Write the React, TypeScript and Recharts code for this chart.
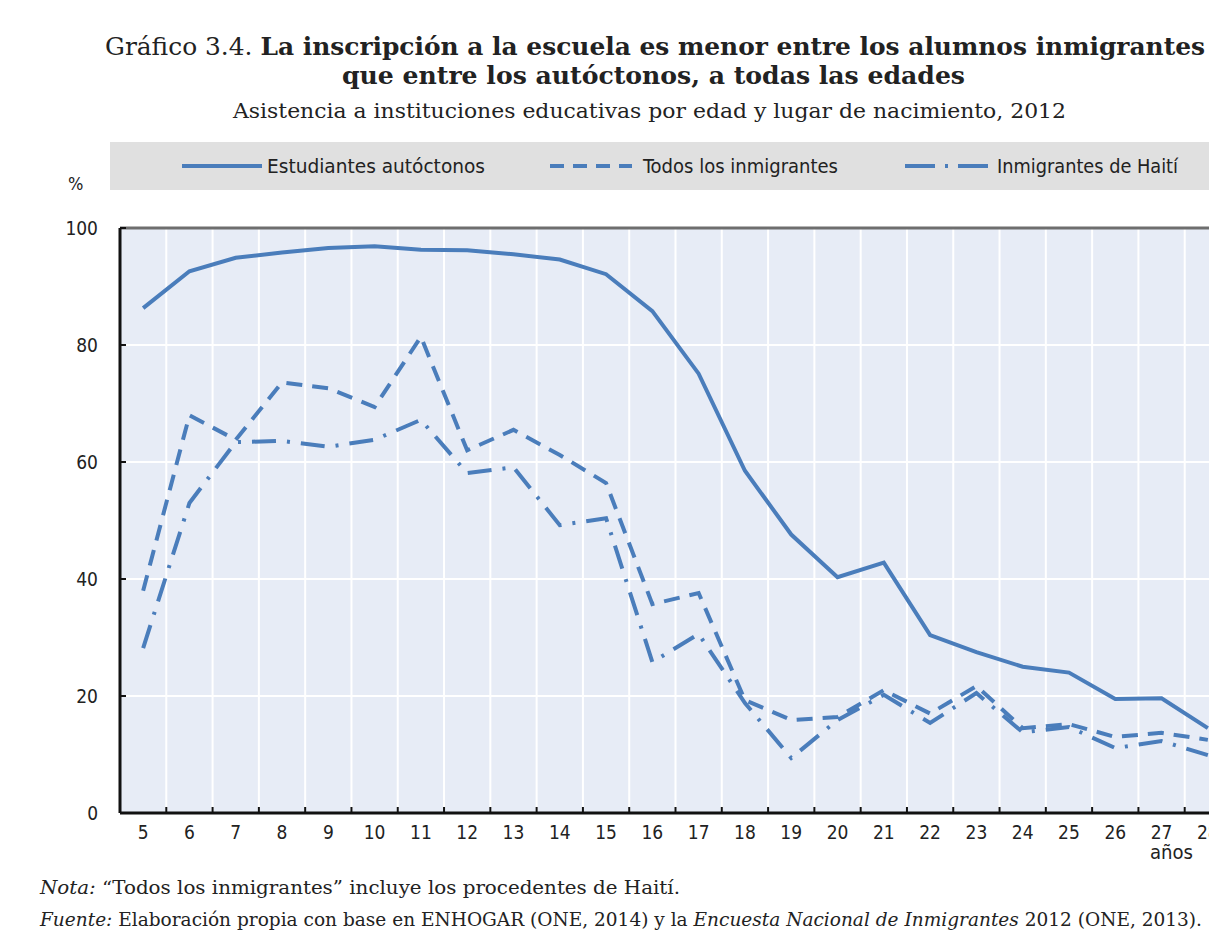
import { CartesianGrid, Line, LineChart, ReferenceLine, XAxis, YAxis } from "recharts";

// edades 5..28 (la última columna queda cortada en el original)
const ages = [5, 6, 7, 8, 9, 10, 11, 12, 13, 14, 15, 16, 17, 18, 19, 20, 21, 22, 23, 24, 25, 26, 27, 28];

const autoctonos = [86.3, 92.6, 94.9, 95.8, 96.6, 96.9, 96.3, 96.2, 95.5, 94.6, 92.1, 85.8, 75.1, 58.5, 47.6, 40.3, 42.8, 30.4, 27.5, 25.0, 24.0, 19.5, 19.6, 14.5];
const todosInmigrantes = [38.0, 68.0, 63.8, 73.6, 72.6, 69.4, 81.4, 62.0, 65.5, 61.2, 56.4, 35.7, 37.6, 19.3, 15.9, 16.4, 21.0, 17.0, 21.7, 14.5, 15.2, 13.0, 13.7, 12.5];
const haiti = [28.2, 53.0, 63.4, 63.6, 62.6, 63.8, 67.2, 58.1, 59.1, 49.2, 50.4, 25.8, 30.6, 18.8, 9.4, 15.9, 20.2, 15.4, 20.5, 13.8, 14.7, 11.1, 12.3, 9.9];

const yTicks = [0, 20, 40, 60, 80, 100];
// límites entre edades: marcas del eje y líneas verticales de la cuadrícula
const boundaries = ages.slice(0, -1).map((a) => a + 0.5);
const xTicks = [...ages, ...boundaries].sort((a, b) => a - b);

const data = ages.map((age, i) => ({
  age,
  autoctonos: autoctonos[i],
  todos: todosInmigrantes[i],
  haiti: haiti[i],
}));

const BLUE = "#4a7dbb";
const NARROW = "'DejaVu Sans Condensed', 'Liberation Sans Narrow', 'Roboto', sans-serif";
const SERIF = "'DejaVu Serif', 'Liberation Serif', serif";

const DASHED = "16 10";
const DASH_DOT = "24 11 3 11";

const AgeTick = ({ x, y, payload }: any) => {
  const v = payload.value;
  if (!Number.isInteger(v)) {
    return <line x1={x} x2={x} y1={y - 6} y2={y} stroke="#111" strokeWidth={2} />;
  }
  return (
    <text x={x} y={y + 26} textAnchor="middle" fontFamily={NARROW} fontSize={19} fill="#222">
      {v}
    </text>
  );
};

export default function App() {
  return (
    <div
      style={{
        position: "absolute",
        left: 0,
        top: 0,
        width: 1209,
        height: 943,
        overflow: "hidden",
        background: "#fff",
      }}
    >
      <div style={{ position: "absolute", left: 0, top: 0 }}>
        <LineChart
          width={1260}
          height={943}
          data={data}
          margin={{ top: 228, right: 29, bottom: 100, left: 60 }}
        >
          <CartesianGrid
            xAxisId="grid"
            fill="#e7ecf6"
            fillOpacity={1}
            stroke="#ffffff"
            strokeWidth={2}
          />
          <XAxis
            xAxisId="grid"
            dataKey="age"
            type="number"
            orientation="top"
            domain={[4.5, 28.5]}
            ticks={boundaries}
            interval={0}
            hide
          />
          <XAxis
            dataKey="age"
            type="number"
            domain={[4.5, 28.5]}
            ticks={xTicks}
            interval={0}
            height={30}
            tickSize={0}
            tickMargin={0}
            tickLine={false}
            axisLine={{ stroke: "#111", strokeWidth: 3 }}
            tick={<AgeTick />}
          />
          <YAxis
            domain={[0, 100]}
            ticks={yTicks}
            interval={0}
            width={60}
            tickSize={-6}
            tickMargin={28}
            axisLine={{ stroke: "#111", strokeWidth: 3 }}
            tickLine={{ stroke: "#111", strokeWidth: 2 }}
            tick={{ fontFamily: NARROW, fontSize: 19, fill: "#222" }}
          />
          <ReferenceLine y={100} stroke="#6e6e6e" strokeWidth={3} />
          <Line
            dataKey="autoctonos"
            type="linear"
            stroke={BLUE}
            strokeWidth={4}
            dot={false}
            isAnimationActive={false}
          />
          <Line
            dataKey="todos"
            type="linear"
            stroke={BLUE}
            strokeWidth={4}
            strokeDasharray={DASHED}
            dot={false}
            isAnimationActive={false}
          />
          <Line
            dataKey="haiti"
            type="linear"
            stroke={BLUE}
            strokeWidth={4}
            strokeDasharray={DASH_DOT}
            dot={false}
            isAnimationActive={false}
          />
        </LineChart>
      </div>

      {/* títulos, leyenda y notas */}
      <svg
        width={1209}
        height={943}
        style={{ position: "absolute", left: 0, top: 0, pointerEvents: "none" }}
      >
        <text x={105} y={55} fontFamily={SERIF} fontSize={25} fill="#222" textLength={1100} lengthAdjust="spacingAndGlyphs">
          <tspan>Gráfico 3.4. </tspan>
          <tspan fontWeight="bold">La inscripción a la escuela es menor entre los alumnos inmigrantes</tspan>
        </text>
        <text x={342} y={84} fontFamily={SERIF} fontSize={25} fontWeight="bold" fill="#222" textLength={623} lengthAdjust="spacingAndGlyphs">
          que entre los autóctonos, a todas las edades
        </text>
        <text x={233} y={118} fontFamily={SERIF} fontSize={20} fill="#222" textLength={833} lengthAdjust="spacingAndGlyphs">
          Asistencia a instituciones educativas por edad y lugar de nacimiento, 2012
        </text>

        <rect x={110} y={142} width={1110} height={48} fill="#e0e0e0" />
        <line x1={182} x2={262} y1={166} y2={166} stroke={BLUE} strokeWidth={4} />
        <text x={267} y={173} fontFamily={NARROW} fontSize={20} fill="#222" textLength={218} lengthAdjust="spacingAndGlyphs">
          Estudiantes autóctonos
        </text>
        <line x1={550} x2={632} y1={166} y2={166} stroke={BLUE} strokeWidth={4} strokeDasharray="14 9" />
        <text x={643} y={173} fontFamily={NARROW} fontSize={20} fill="#222" textLength={195} lengthAdjust="spacingAndGlyphs">
          Todos los inmigrantes
        </text>
        <line x1={905} x2={992} y1={166} y2={166} stroke={BLUE} strokeWidth={4} strokeDasharray="30 10 3 10" />
        <text x={997} y={173} fontFamily={NARROW} fontSize={20} fill="#222" textLength={181} lengthAdjust="spacingAndGlyphs">
          Inmigrantes de Haití
        </text>

        <text x={68} y={190} fontFamily={NARROW} fontSize={18} fill="#222">%</text>
        <text x={1150} y={859} fontFamily={NARROW} fontSize={19} fill="#222" textLength={43} lengthAdjust="spacingAndGlyphs">años</text>

        <text x={40} y={894} fontFamily={SERIF} fontSize={18} fill="#222" textLength={640} lengthAdjust="spacingAndGlyphs">
          <tspan fontStyle="italic">Nota:</tspan>
          <tspan> “Todos los inmigrantes” incluye los procedentes de Haití.</tspan>
        </text>
        <text x={40} y={926} fontFamily={SERIF} fontSize={18} fill="#222" textLength={1162} lengthAdjust="spacingAndGlyphs">
          <tspan fontStyle="italic">Fuente:</tspan>
          <tspan> Elaboración propia con base en ENHOGAR (ONE, 2014) y la </tspan>
          <tspan fontStyle="italic">Encuesta Nacional de Inmigrantes</tspan>
          <tspan> 2012 (ONE, 2013).</tspan>
        </text>
      </svg>
    </div>
  );
}
